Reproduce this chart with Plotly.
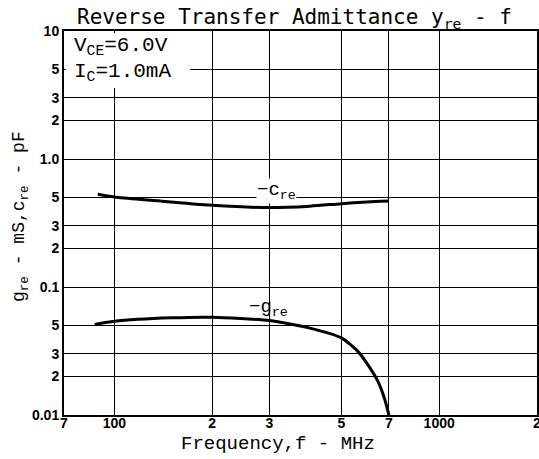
import plotly.graph_objects as go

# Data
cre_freq = [89, 100, 130, 200, 300, 400, 500, 600, 700]
cre_vals = [0.53, 0.505, 0.476, 0.435, 0.417, 0.428, 0.448, 0.462, 0.47]

gre_freq = [87, 100, 150, 200, 300, 400, 500, 560, 600, 650, 680, 700]
gre_vals = [0.051, 0.054, 0.0574, 0.058, 0.0547, 0.0477, 0.040, 0.0317, 0.0252, 0.018, 0.0132, 0.01]

x_tickvals = [70, 100, 200, 300, 500, 700, 1000, 2000]
x_ticktext = ["7", "100", "2", "3", "5", "7", "1000", "2"]
y_tickvals = [0.01, 0.02, 0.03, 0.05, 0.1, 0.2, 0.3, 0.5, 1, 2, 3, 5, 10]
y_ticktext = ["0.01", "2", "3", "5", "0.1", "2", "3", "5", "1.0", "2", "3", "5", "10"]

W, H = 539, 459
ML, MR, MT, MB = 64, 2, 31, 44
PW, PH = W - ML - MR, H - MT - MB

def px(x):
    return (x - ML) / PW

def py(y):
    return 1 - (y - MT) / PH

fig = go.Figure()
fig.add_trace(go.Scatter(x=cre_freq, y=cre_vals, mode="lines",
                         line=dict(color="black", width=3, shape="spline", smoothing=0.8),
                         showlegend=False, hoverinfo="skip"))
fig.add_trace(go.Scatter(x=gre_freq, y=gre_vals, mode="lines",
                         line=dict(color="black", width=3, shape="spline", smoothing=0.6),
                         showlegend=False, hoverinfo="skip"))

tick_font = dict(family="Liberation Sans", size=14, color="black", weight="bold")
fig.update_xaxes(type="log", range=[1.8451, 3.30103], tickvals=x_tickvals, ticktext=x_ticktext,
                 showgrid=True, gridcolor="black", gridwidth=1, zeroline=False,
                 showline=True, linecolor="black", linewidth=2, mirror=True,
                 ticks="", ticklen=0, tickfont=tick_font, automargin=False,
                 ticklabelstandoff=-6, ticklabeloverflow="allow")
fig.update_yaxes(type="log", range=[-2, 1], tickvals=y_tickvals, ticktext=y_ticktext,
                 showgrid=True, gridcolor="black", gridwidth=1, zeroline=False,
                 showline=True, linecolor="black", linewidth=2, mirror=True,
                 ticks="", ticklen=0, tickfont=tick_font, automargin=False)

# axis titles
fig.add_annotation(xref="paper", yref="paper", x=px(278), y=py(444), xanchor="center", yanchor="middle",
                   text="Frequency,f - MHz", showarrow=False,
                   font=dict(family="Liberation Mono", size=19, color="black"))
fig.add_annotation(xref="paper", yref="paper", x=px(20), y=py(217), xanchor="center", yanchor="middle",
                   text="g<sub>re</sub> - mS,c<sub>re</sub> - pF", showarrow=False, textangle=-90,
                   font=dict(family="Liberation Mono", size=18, color="black"))

# white patch behind the condition text
fig.add_shape(type="rect", xref="paper", yref="paper",
              x0=px(66), x1=px(190), y0=py(88), y1=py(33),
              fillcolor="white", line=dict(width=0), layer="above")

cond_font = dict(family="Liberation Mono", size=21, color="black")
fig.add_annotation(xref="paper", yref="paper", x=px(72), y=py(47), xanchor="left", yanchor="middle",
                   text="V<sub>CE</sub>=6.0V", showarrow=False, font=cond_font)
fig.add_annotation(xref="paper", yref="paper", x=px(72), y=py(72), xanchor="left", yanchor="middle",
                   text="I<sub>C</sub>=1.0mA", showarrow=False, font=cond_font)

lab_font = dict(family="Liberation Mono", size=19, color="black")
fig.add_annotation(xref="paper", yref="paper", x=px(276), y=py(191), xanchor="center", yanchor="middle",
                   text="−c<sub>re</sub>", showarrow=False, font=lab_font, bgcolor="white", borderpad=0)
fig.add_annotation(xref="paper", yref="paper", x=px(268), y=py(308), xanchor="center", yanchor="middle",
                   text="−g<sub>re</sub>", showarrow=False, font=lab_font)

fig.update_layout(
    width=W, height=H,
    margin=dict(l=ML, r=MR, t=MT, b=MB, autoexpand=False),
    paper_bgcolor="white", plot_bgcolor="white",
    title=dict(text="Reverse Transfer Admittance y<sub>re</sub> - f",
               x=px(77), xref="paper", xanchor="left",
               y=1 - 17 / H, yref="container", yanchor="middle", automargin=False,
               font=dict(family="DejaVu Sans Mono", size=21, color="black")),
)

fig.write_html("out.html", config={"displayModeBar": False},
               post_script="document.body.style.margin='0';document.body.style.overflow='hidden';")
